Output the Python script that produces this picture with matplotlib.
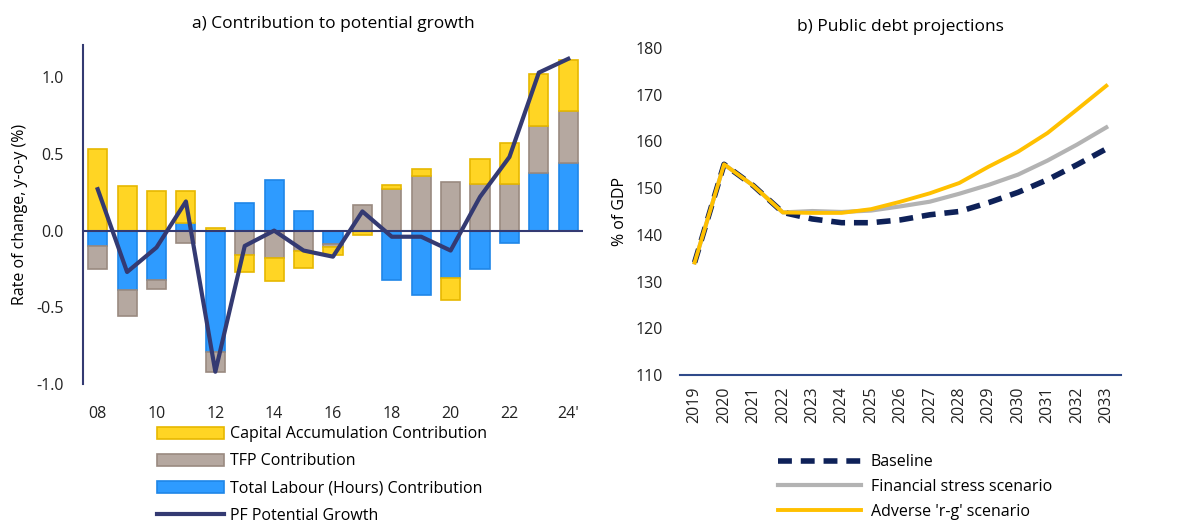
import matplotlib.pyplot as plt
import numpy as np

plt.rcParams['font.family'] = ['Open Sans', 'DejaVu Sans']

# Left panel data: contributions to potential growth
years = ['08', '09', '10', '11', '12', '13', '14', '15', '16',
         '17', '18', '19', '20', '21', '22', '23', "24'"]
labour = [-0.10, -0.39, -0.32, 0.05, -0.79, 0.18, 0.33, 0.13, -0.085,
          0.0, -0.32, -0.42, -0.31, -0.25, -0.08, 0.375, 0.44]
tfp = [-0.15, -0.17, -0.06, -0.08, -0.13, -0.16, -0.18, -0.13, -0.02,
       0.165, 0.27, 0.355, 0.315, 0.305, 0.305, 0.31, 0.34]
capital = [0.53, 0.29, 0.26, 0.21, 0.015, -0.11, -0.15, -0.115, -0.055,
           -0.03, 0.03, 0.045, -0.14, 0.16, 0.265, 0.335, 0.33]
pf_growth = [0.27, -0.27, -0.11, 0.19, -0.92, -0.10, 0.0, -0.13, -0.17,
             0.125, -0.04, -0.04, -0.13, 0.22, 0.48, 1.03, 1.12]

# Right panel data: public debt projections (% of GDP)
debt_years = [str(y) for y in range(2019, 2034)]
baseline = [134.1, 155.1, 150.5, 144.8, 143.4, 142.6, 142.6, 143.2, 144.3,
            145.0, 146.9, 149.1, 151.8, 155.0, 158.4]
fin_stress = [134.1, 155.1, 150.5, 144.8, 145.1, 144.9, 145.2, 146.1, 147.1,
              148.8, 150.7, 152.9, 155.9, 159.3, 163.0]
adverse_rg = [134.1, 155.1, 150.5, 144.8, 144.7, 144.7, 145.5, 147.1, 148.9,
              151.1, 154.6, 157.8, 161.8, 166.8, 171.9]

navy = '#343a72'
fig = plt.figure(figsize=(11.77, 5.25), dpi=100)

# ---- panel a ----
ax1 = fig.add_axes([0.0705, 0.2686, 0.4248, 0.6457])
x = np.arange(len(years))
w = 0.65
pos_base = np.zeros(len(years))
neg_base = np.zeros(len(years))
series = [
    (labour, '#2e9bff', '#1f86e8', 'Total Labour (Hours) Contribution'),
    (tfp, '#b5a8a0', '#9a8a80', 'TFP Contribution'),
    (capital, '#ffd524', '#e6b800', 'Capital Accumulation Contribution'),
]
handles = {}
for vals, fc, ec, lab in series:
    v = np.array(vals)
    bottoms = np.where(v >= 0, pos_base, neg_base)
    b = ax1.bar(x, v, w, bottom=bottoms, color=fc, edgecolor=ec,
                linewidth=1.2, label=lab, zorder=2)
    handles[lab] = b
    pos_base = pos_base + np.where(v >= 0, v, 0)
    neg_base = neg_base + np.where(v < 0, v, 0)

line, = ax1.plot(x, pf_growth, color=navy, lw=3, zorder=4,
                 label='PF Potential Growth')
ax1.axhline(0, color=navy, lw=1.5, zorder=3)

ax1.set_xlim(-0.5, len(years) - 0.5)
ax1.set_ylim(-1.0, 1.21)
ax1.set_yticks([-1.0, -0.5, 0.0, 0.5, 1.0])
ax1.set_yticklabels(['-1.0', '-0.5', '0.0', '0.5', '1.0'])
ax1.set_xticks(x[::2])
ax1.set_xticklabels(years[::2])
ax1.tick_params(length=0, labelsize=11.5, colors='#222222')
ax1.tick_params(axis='x', pad=16)
ax1.tick_params(axis='y', pad=14)
for s in ['top', 'right', 'bottom']:
    ax1.spines[s].set_visible(False)
ax1.spines['left'].set_color(navy)
ax1.spines['left'].set_linewidth(1.5)
ax1.set_ylabel('Rate of change, y-o-y (%)', fontsize=11.5, labelpad=6)
ax1.set_title('a) Contribution to potential growth', fontsize=12.5, pad=12)

fig.legend([handles['Capital Accumulation Contribution'],
            handles['TFP Contribution'],
            handles['Total Labour (Hours) Contribution'], line],
           ['Capital Accumulation Contribution', 'TFP Contribution',
            'Total Labour (Hours) Contribution', 'PF Potential Growth'],
           loc='upper left', bbox_to_anchor=(0.133, 0.188), frameon=False,
           fontsize=11.5, handlelength=4.2, handleheight=0.75,
           labelspacing=0.7, handletextpad=0.4, borderaxespad=0,
           borderpad=0)

# ---- panel b ----
ax2 = fig.add_axes([0.5777, 0.2857, 0.3747, 0.6229])
xd = np.arange(len(debt_years))
ax2.plot(xd, fin_stress, color='#b3b3b3', lw=3, label='Financial stress scenario', zorder=2)
ax2.plot(xd, baseline, color='#0e2158', lw=4, ls=(0, (2.5, 1.6)),
         label='Baseline', zorder=3)
ax2.plot(xd, adverse_rg, color='#ffc000', lw=2.8, label="Adverse 'r-g' scenario", zorder=4)

ax2.set_xlim(-0.5, len(debt_years) - 0.5)
ax2.set_ylim(110, 180)
ax2.set_yticks(range(110, 181, 10))
ax2.set_xticks(xd)
ax2.set_xticklabels(debt_years, rotation=90)
ax2.tick_params(length=0, labelsize=11.5, colors='#222222')
ax2.tick_params(axis='x', pad=8)
ax2.tick_params(axis='y', pad=12)
for s in ['top', 'right', 'left']:
    ax2.spines[s].set_visible(False)
ax2.spines['bottom'].set_color('#2f4a8a')
ax2.spines['bottom'].set_linewidth(1.5)
ax2.set_ylabel('% of GDP', fontsize=11.5, labelpad=6)
ax2.set_title('b) Public debt projections', fontsize=12.5, pad=12)

h, l = ax2.get_legend_handles_labels()
order = [1, 0, 2]
fig.legend([h[i] for i in order], [l[i] for i in order],
           loc='upper left', bbox_to_anchor=(0.661, 0.135), frameon=False,
           fontsize=11.5, handlelength=5.2, labelspacing=0.55,
           handletextpad=0.6, borderaxespad=0, borderpad=0)

plt.savefig('out.png', dpi=100)
